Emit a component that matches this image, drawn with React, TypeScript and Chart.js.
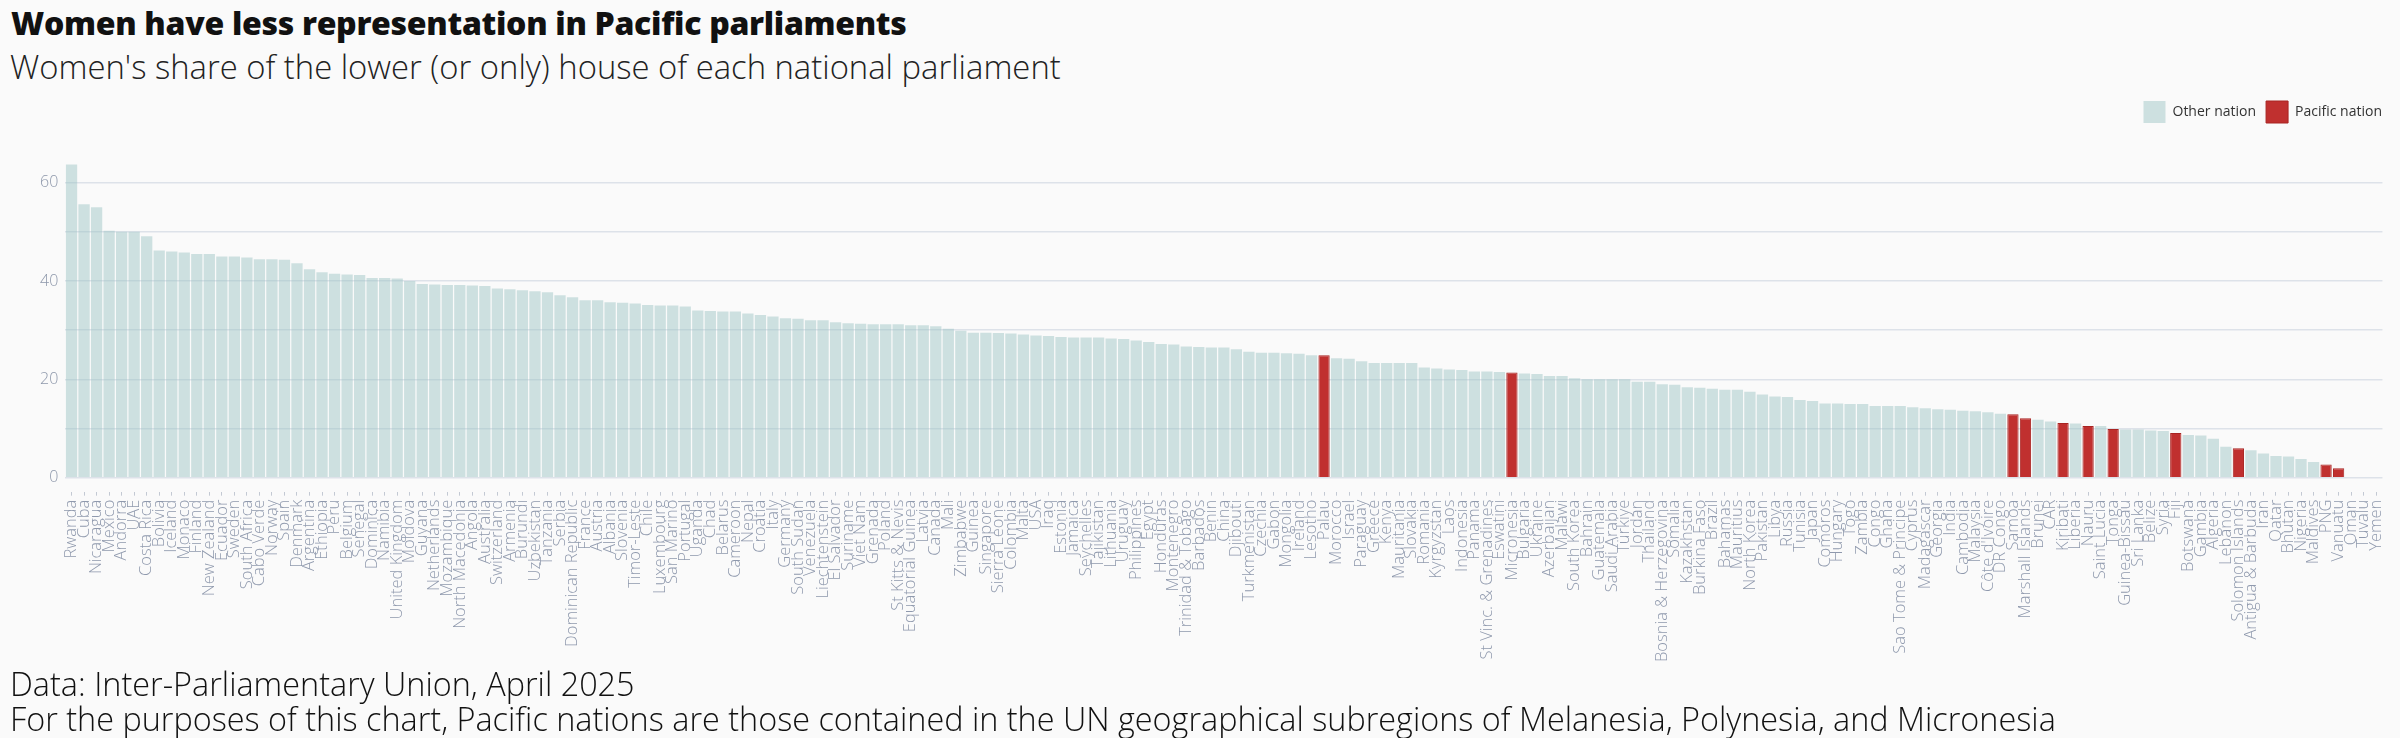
import { useEffect, useRef } from "react";
import { Chart, registerables } from "chart.js";

Chart.register(...registerables);

// Women's share (%) of seats in the lower (or only) house, IPU April 2025
const countries = [
  "Rwanda", "Cuba", "Nicaragua", "Mexico", "Andorra", "UAE", "Costa Rica", "Bolivia", "Iceland", "Monaco",
  "Finland", "New Zealand", "Ecuador", "Sweden", "South Africa", "Cabo Verde", "Norway", "Spain", "Denmark", "Argentina",
  "Ethiopia", "Peru", "Belgium", "Senegal", "Dominica", "Namibia", "United Kingdom", "Moldova", "Guyana", "Netherlands",
  "Mozambique", "North Macedonia", "Angola", "Australia", "Switzerland", "Armenia", "Burundi", "Uzbekistan", "Tanzania", "Serbia",
  "Dominican Republic", "France", "Austria", "Albania", "Slovenia", "Timor-Leste", "Chile", "Luxembourg", "San Marino", "Portugal",
  "Uganda", "Chad", "Belarus", "Cameroon", "Nepal", "Croatia", "Italy", "Germany", "South Sudan", "Venezuela",
  "Liechtenstein", "El Salvador", "Suriname", "Viet Nam", "Grenada", "Poland", "St Kitts & Nevis", "Equatorial Guinea", "Latvia", "Canada",
  "Mali", "Zimbabwe", "Guinea", "Singapore", "Sierra Leone", "Colombia", "Malta", "USA", "Iraq", "Estonia",
  "Jamaica", "Seychelles", "Tajikistan", "Lithuania", "Uruguay", "Philippines", "Egypt", "Honduras", "Montenegro", "Trinidad & Tobago",
  "Barbados", "Benin", "China", "Djibouti", "Turkmenistan", "Czechia", "Gabon", "Mongolia", "Ireland", "Lesotho",
  "Palau", "Morocco", "Israel", "Paraguay", "Greece", "Kenya", "Mauritania", "Slovakia", "Romania", "Kyrgyzstan",
  "Laos", "Indonesia", "Panama", "St Vinc. & Grenadines", "Eswatini", "Micronesia", "Bulgaria", "Ukraine", "Azerbaijan", "Malawi",
  "South Korea", "Bahrain", "Guatemala", "Saudi Arabia", "Türkiye", "Jordan", "Thailand", "Bosnia & Herzegovina", "Somalia", "Kazakhstan",
  "Burkina Faso", "Brazil", "Bahamas", "Mauritius", "North Korea", "Pakistan", "Libya", "Russia", "Tunisia", "Japan",
  "Comoros", "Hungary", "Togo", "Zambia", "Congo", "Ghana", "Sao Tome & Principe", "Cyprus", "Madagascar", "Georgia",
  "India", "Cambodia", "Malaysia", "Côte d'Ivoire", "DR Congo", "Samoa", "Marshall Islands", "Brunei", "CAR", "Kiribati",
  "Liberia", "Nauru", "Saint Lucia", "Tonga", "Guinea-Bissau", "Sri Lanka", "Belize", "Syria", "Fiji", "Botswana",
  "Gambia", "Algeria", "Lebanon", "Solomon Islands", "Antigua & Barbuda", "Iran", "Qatar", "Bhutan", "Nigeria", "Maldives",
  "PNG", "Vanuatu", "Oman", "Tuvalu", "Yemen",
];

const shares = [
  63.7, 55.6, 55.0, 50.2, 50.0, 50.0, 49.1, 46.2, 46.0, 45.8,
  45.5, 45.5, 45.0, 45.0, 44.8, 44.4, 44.4, 44.3, 43.6, 42.4,
  41.8, 41.5, 41.3, 41.2, 40.6, 40.6, 40.5, 40.0, 39.4, 39.3,
  39.2, 39.2, 39.1, 39.0, 38.5, 38.3, 38.1, 37.9, 37.7, 37.1,
  36.7, 36.1, 36.1, 35.7, 35.6, 35.4, 35.1, 35.0, 35.0, 34.8,
  34.0, 33.9, 33.8, 33.8, 33.4, 33.1, 32.8, 32.4, 32.3, 32.0,
  32.0, 31.6, 31.4, 31.3, 31.2, 31.2, 31.2, 31.0, 31.0, 30.8,
  30.3, 29.9, 29.5, 29.5, 29.4, 29.3, 29.1, 28.9, 28.8, 28.6,
  28.5, 28.5, 28.5, 28.3, 28.2, 27.9, 27.6, 27.2, 27.1, 26.7,
  26.6, 26.5, 26.5, 26.1, 25.6, 25.4, 25.4, 25.3, 25.2, 24.9,
  24.9, 24.3, 24.2, 23.7, 23.3, 23.3, 23.3, 23.3, 22.4, 22.2,
  22.0, 21.9, 21.6, 21.6, 21.5, 21.4, 21.2, 21.1, 20.7, 20.7,
  20.2, 20.0, 20.0, 20.0, 20.0, 19.5, 19.5, 19.0, 18.9, 18.4,
  18.3, 18.1, 17.9, 17.9, 17.5, 16.9, 16.5, 16.4, 15.8, 15.6,
  15.1, 15.1, 15.0, 15.0, 14.6, 14.6, 14.6, 14.3, 14.1, 13.9,
  13.8, 13.6, 13.5, 13.3, 13.0, 12.9, 12.1, 11.8, 11.4, 11.1,
  11.0, 10.5, 10.5, 9.9, 9.8, 9.8, 9.6, 9.5, 9.1, 8.7,
  8.6, 7.9, 6.3, 6.0, 5.6, 4.9, 4.4, 4.3, 3.8, 3.2,
  2.7, 1.9, 0, 0, 0,
];

const pacificNations = [
  "Palau", "Micronesia", "Samoa", "Marshall Islands", "Kiribati", "Nauru", "Tonga", "Fiji", "Solomon Islands", "PNG", "Vanuatu",
];

const yGridValues = [0, 10, 20, 30, 40, 50, 60];
const yLabelValues = [0, 20, 40, 60];

const FONT = "'Open Sans', sans-serif";

export default function App() {
  const canvasRef = useRef<HTMLCanvasElement | null>(null);

  useEffect(() => {
    document.body.style.margin = "0";
    document.body.style.background = "#fafafa";
    if (!canvasRef.current) return;

    Chart.defaults.font.family = FONT;

    const isPacific = (name: string) => pacificNations.includes(name);
    const otherData = shares.map((v, i) => (isPacific(countries[i]) ? null : v));
    const pacificData = shares.map((v, i) => (isPacific(countries[i]) ? v : null));

    // extra room between legend and plot
    const legendSpacing = {
      id: "legendSpacing",
      beforeInit(chart: any) {
        const fit = chart.legend.fit;
        chart.legend.fit = function () {
          fit.call(this);
          this.height += 30;
        };
      },
    };

    const chart = new Chart(canvasRef.current, {
      type: "bar",
      data: {
        labels: countries,
        datasets: [
          {
            label: "Other nation",
            data: otherData,
            backgroundColor: "rgba(150, 193, 193, 0.45)",
            borderWidth: 0,
            grouped: false,
            barPercentage: 0.9,
            categoryPercentage: 1,
          },
          {
            label: "Pacific nation",
            data: pacificData,
            backgroundColor: "#c0302f",
            borderColor: "#a82422",
            borderWidth: 1,
            grouped: false,
            barPercentage: 0.9,
            categoryPercentage: 1,
          },
        ],
      },
      options: {
        responsive: true,
        maintainAspectRatio: false,
        animation: false,
        layout: { padding: { left: 33, right: 8, top: 0, bottom: 0 } },
        plugins: {
          legend: {
            position: "top",
            align: "end",
            labels: {
              boxWidth: 22,
              boxHeight: 22,
              padding: 10,
              color: "#333",
              font: { size: 14, family: FONT },
            },
          },
          tooltip: { enabled: false },
        },
        scales: {
          x: {
            border: { display: false },
            grid: {
              display: true,
              offset: false,
              drawOnChartArea: false,
              drawTicks: true,
              tickLength: 18,
              tickColor: "#c3c9d3",
              tickWidth: 1,
              tickBorderDash: [4, 14],
              tickBorderDashOffset: 4,
            },
            ticks: {
              autoSkip: false,
              maxRotation: 90,
              minRotation: 90,
              padding: 4,
              color: "#8f99ad",
              font: { size: 16.5, family: FONT, weight: "300" },
            },
          },
          y: {
            min: 0,
            max: 64,
            border: { display: false },
            afterBuildTicks: (axis: any) => {
              axis.ticks = yGridValues.map((value) => ({ value }));
            },
            grid: {
              color: "#dde2e9",
              lineWidth: 1.5,
              drawTicks: false,
            },
            ticks: {
              padding: 7,
              color: "#8e98ab",
              font: { size: 16, family: FONT, weight: "300" },
              callback: (value: any) => (yLabelValues.includes(Number(value)) ? String(value) : ""),
            },
          },
        },
      },
      plugins: [legendSpacing],
    });

    return () => chart.destroy();
  }, []);

  return (
    <div style={{ position: "relative", width: 2400, height: 738, background: "#fafafa", overflow: "hidden", fontFamily: FONT }}>
      <div style={{ position: "absolute", left: 11, top: 3, fontSize: 32, fontWeight: 800, color: "#111", lineHeight: "40px", letterSpacing: -0.3 }}>
        Women have less representation in Pacific parliaments
      </div>
      <div style={{ position: "absolute", left: 10, top: 47, fontSize: 32.8, fontWeight: 300, color: "#222", lineHeight: "40px" }}>
        Women's share of the lower (or only) house of each national parliament
      </div>
      <div style={{ position: "absolute", left: 0, top: 91, width: 2400, height: 575 }}>
        <canvas ref={canvasRef} />
      </div>
      <div style={{ position: "absolute", left: 10, top: 663, fontSize: 32.4, fontWeight: 300, color: "#111", lineHeight: "40px" }}>
        Data: Inter-Parliamentary Union, April 2025
      </div>
      <div style={{ position: "absolute", left: 10, top: 698, fontSize: 32.4, fontWeight: 300, color: "#111", lineHeight: "40px" }}>
        For the purposes of this chart, Pacific nations are those contained in the UN geographical subregions of Melanesia, Polynesia, and Micronesia
      </div>
    </div>
  );
}
